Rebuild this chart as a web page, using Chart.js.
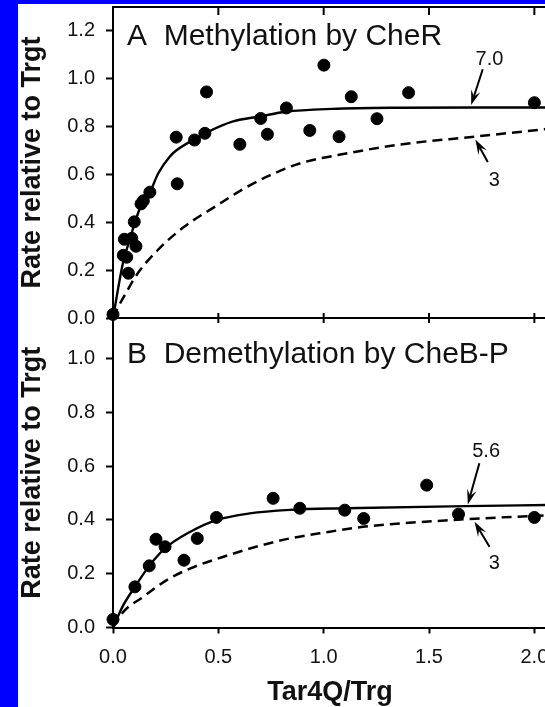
<!DOCTYPE html>
<html><head><meta charset="utf-8">
<script src="https://cdn.jsdelivr.net/npm/chart.js@4.4.0/dist/chart.umd.min.js"></script>
<style>
html,body{margin:0;padding:0;background:#0000ff;width:545px;height:707px;overflow:hidden;position:relative}
#paper{position:absolute;left:18px;top:4px;width:600px;height:720px;background:#fff}
canvas{position:absolute;left:0}
#cA{top:0}
#cB{top:300px}
</style></head><body>
<div id="paper"></div>
<canvas id="cA" width="560" height="330"></canvas>
<canvas id="cB" width="560" height="407"></canvas>
<script>
// ---- axes ----
const xTicks = [0, 0.5, 1.0, 1.5, 2.0];
const xTickLabels = ['0.0', '0.5', '1.0', '1.5', '2.0'];
const xInnerTicks = [0.5, 1.0, 1.5, 2.0];
const yTicksA = [0, 0.2, 0.4, 0.6, 0.8, 1.0, 1.2];
const yTicksB = [0, 0.2, 0.4, 0.6, 0.8, 1.0];
const xRange = [0, 2.06];
const yRangeA = [0, 1.3];
const yRangeB = [0, 1.15];
const titleA = 'A  Methylation by CheR';
const titleB = 'B  Demethylation by CheB-P';
const yTitle = 'Rate relative to Trgt';
const xTitle = 'Tar4Q/Trg';

// ---- panel A: methylation by CheR ----
const methX = [0, 0.049, 0.054, 0.065, 0.073, 0.089, 0.101, 0.109, 0.133, 0.144, 0.175, 0.30, 0.305, 0.387, 0.436, 0.444, 0.602, 0.701, 0.733, 0.823, 0.934, 1.001, 1.073, 1.131, 1.253, 1.403, 2.0];
const methY = [0.015, 0.262, 0.329, 0.254, 0.187, 0.333, 0.402, 0.30, 0.477, 0.49, 0.526, 0.756, 0.561, 0.744, 0.772, 0.945, 0.726, 0.834, 0.768, 0.878, 0.784, 1.057, 0.758, 0.925, 0.833, 0.942, 0.90];
const fitA7X = [0, 0.049, 0.077, 0.104, 0.136, 0.175, 0.215, 0.27, 0.30, 0.387, 0.436, 0.57, 0.70, 0.82, 1.04, 1.36, 1.72, 2.06];
const fitA7Y = [0, 0.237, 0.321, 0.399, 0.477, 0.526, 0.605, 0.675, 0.70, 0.748, 0.772, 0.822, 0.843, 0.862, 0.874, 0.879, 0.88, 0.88];
const fitA3X = [0, 0.017, 0.065, 0.112, 0.207, 0.333, 0.491, 0.62, 0.744, 0.886, 1.123, 1.36, 1.716, 2.06];
const fitA3Y = [0, 0.033, 0.11, 0.18, 0.279, 0.378, 0.469, 0.54, 0.596, 0.646, 0.69, 0.725, 0.758, 0.79];
const notesA = [
  {text: '7.0', tx: 1.787, ty: 1.082, fx: 1.755, fy: 1.04, ax: 1.70, ay: 0.89},
  {text: '3', tx: 1.81, ty: 0.575, fx: 1.779, fy: 0.652, ax: 1.72, ay: 0.746}
];

// ---- panel B: demethylation by CheB-P ----
const demX = [0, 0.104, 0.172, 0.204, 0.247, 0.337, 0.40, 0.491, 0.76, 0.887, 1.10, 1.19, 1.489, 1.64, 2.0];
const demY = [0.03, 0.151, 0.229, 0.328, 0.30, 0.25, 0.331, 0.409, 0.48, 0.443, 0.436, 0.405, 0.529, 0.421, 0.409];
const fitB56X = [0, 0.049, 0.104, 0.172, 0.247, 0.365, 0.491, 0.649, 0.839, 1.10, 1.675, 2.06];
const fitB56Y = [0, 0.083, 0.151, 0.229, 0.294, 0.355, 0.399, 0.424, 0.437, 0.443, 0.451, 0.455];
const fitB3X = [0, 0.049, 0.144, 0.255, 0.365, 0.521, 0.679, 0.839, 0.981, 1.186, 1.647, 2.06];
const fitB3Y = [0, 0.058, 0.114, 0.176, 0.219, 0.262, 0.30, 0.331, 0.35, 0.374, 0.401, 0.417];
const notesB = [
  {text: '5.6', tx: 1.771, ty: 0.653, fx: 1.739, fy: 0.61, ax: 1.684, ay: 0.457},
  {text: '3', tx: 1.81, ty: 0.238, fx: 1.787, fy: 0.30, ax: 1.716, ay: 0.393}
];

const FONT = '"Liberation Sans", Arial, Helvetica, sans-serif';
Chart.defaults.font.family = FONT;
Chart.defaults.color = '#111';

const pts = (xs, ys) => xs.map((v, i) => ({x: v, y: ys[i]}));

function drawArrow(ctx, x1, y1, x2, y2) {
  const ang = Math.atan2(y2 - y1, x2 - x1);
  const c = Math.cos(ang), s = Math.sin(ang);
  const L = 15, W = 4.8, N = 9;
  ctx.lineWidth = 2;
  ctx.beginPath(); ctx.moveTo(x1, y1); ctx.lineTo(x2 - c * N, y2 - s * N); ctx.stroke();
  ctx.beginPath();
  ctx.moveTo(x2, y2);
  ctx.lineTo(x2 - c * L - s * W, y2 - s * L + c * W);
  ctx.lineTo(x2 - c * N, y2 - s * N);
  ctx.lineTo(x2 - c * L + s * W, y2 - s * L - c * W);
  ctx.closePath(); ctx.fill();
}

const decor = {
  id: 'decor',
  afterDatasetsDraw(chart, args, o) {
    const {ctx, chartArea: a, scales: {x, y}} = chart;
    ctx.save();
    ctx.strokeStyle = '#000'; ctx.fillStyle = '#111'; ctx.lineWidth = 2;
    o.lines.forEach(edge => {
      const py = edge === 'top' ? a.top : a.bottom;
      ctx.beginPath(); ctx.moveTo(a.left, py); ctx.lineTo(a.right + 20, py); ctx.stroke();
    });
    o.ticks.forEach(t => {
      const py = t.edge === 'top' ? a.top : a.bottom;
      xInnerTicks.forEach(v => {
        const px = x.getPixelForValue(v);
        ctx.beginPath(); ctx.moveTo(px, py); ctx.lineTo(px, py + t.len); ctx.stroke();
      });
    });
    ctx.font = '30px ' + FONT; ctx.textAlign = 'left'; ctx.textBaseline = 'alphabetic';
    ctx.fillText(o.title, a.left + o.tdx, a.top + o.tdy);
    ctx.font = '20px ' + FONT; ctx.textAlign = 'center'; ctx.textBaseline = 'middle';
    o.notes.forEach(n => {
      ctx.fillStyle = '#111';
      ctx.fillText(n.text, x.getPixelForValue(n.tx), y.getPixelForValue(n.ty));
      ctx.fillStyle = '#000'; ctx.strokeStyle = '#000';
      drawArrow(ctx, x.getPixelForValue(n.fx), y.getPixelForValue(n.fy), x.getPixelForValue(n.ax), y.getPixelForValue(n.ay));
    });
    ctx.restore();
  }
};

function yScale(range, ticks) {
  return {
    min: range[0], max: range[1],
    afterBuildTicks: s => { s.ticks = ticks.map(v => ({value: v})); },
    afterFit: s => { s.width = 113; s.paddingTop = 0; s.paddingBottom = 0; },
    ticks: {font: {size: 20}, padding: 11, color: '#111', callback: v => Number(v).toFixed(1)},
    grid: {display: true, drawOnChartArea: false, drawTicks: true, tickLength: 7, tickWidth: 2, tickColor: '#000'},
    border: {display: true, color: '#000', width: 2},
    title: {display: true, text: yTitle, font: {size: 27, weight: 'bold'}, color: '#111', padding: {top: 16, bottom: 0}}
  };
}

function datasets(sx, sy, f1x, f1y, f2x, f2y) {
  return [
    {type: 'scatter', data: pts(sx, sy), backgroundColor: '#000', borderColor: '#000', pointRadius: 6, pointHoverRadius: 6, clip: false, order: 0},
    {type: 'scatter', data: pts(f1x, f1y), showLine: true, borderColor: '#000', borderWidth: 2.4, pointRadius: 0, cubicInterpolationMode: 'monotone', order: 1},
    {type: 'scatter', data: pts(f2x, f2y), showLine: true, borderColor: '#000', borderWidth: 2.5, borderDash: [10, 6], pointRadius: 0, cubicInterpolationMode: 'monotone', order: 1}
  ];
}

const common = {
  responsive: false, animation: false, devicePixelRatio: 1,
  plugins: {legend: {display: false}, tooltip: {enabled: false}}
};

new Chart(document.getElementById('cA'), {
  type: 'scatter',
  data: {datasets: datasets(methX, methY, fitA7X, fitA7Y, fitA3X, fitA3Y)},
  options: {
    ...common,
    layout: {padding: {top: 7, left: 0, right: 13, bottom: 12}},
    plugins: {...common.plugins, decor: {lines: ['top', 'bottom'], ticks: [{edge: 'top', len: 8}, {edge: 'bottom', len: -5}], title: titleA, tdx: 14, tdy: 38, notes: notesA}},
    scales: {
      x: {type: 'linear', display: false, min: xRange[0], max: xRange[1]},
      y: yScale(yRangeA, yTicksA)
    }
  },
  plugins: [decor]
});

new Chart(document.getElementById('cB'), {
  type: 'scatter',
  data: {datasets: datasets(demX, demY, fitB56X, fitB56Y, fitB3X, fitB3Y)},
  options: {
    ...common,
    layout: {padding: {top: 18, left: 0, right: 13, bottom: 0}},
    plugins: {...common.plugins, decor: {lines: [], ticks: [{edge: 'top', len: 5}], title: titleB, tdx: 14, tdy: 45, notes: notesB}},
    scales: {
      x: {
        type: 'linear', min: xRange[0], max: xRange[1],
        afterBuildTicks: s => { s.ticks = xTicks.map(v => ({value: v})); },
        afterFit: s => { s.height = 79.5; s.paddingLeft = 0; s.paddingRight = 0; },
        ticks: {font: {size: 20}, padding: 12, color: '#111', maxRotation: 0, autoSkip: false,
          callback: (v, i) => xTickLabels[i]},
        grid: {display: true, drawOnChartArea: false, drawTicks: true, tickLength: 6, tickWidth: 2, tickColor: '#000'},
        border: {display: true, color: '#000', width: 2},
        title: {display: true, text: xTitle, font: {size: 27, weight: 'bold'}, color: '#111', padding: {top: 0, bottom: -2}}
      },
      y: yScale(yRangeB, yTicksB)
    }
  },
  plugins: [decor]
});
</script>
</body></html>
